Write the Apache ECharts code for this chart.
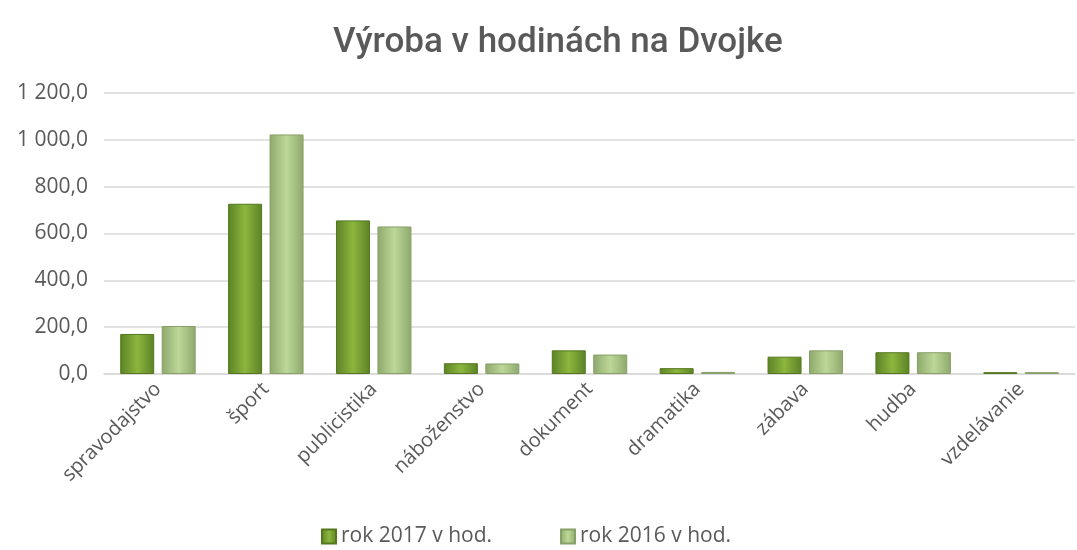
<!DOCTYPE html>
<html>
<head>
<meta charset="utf-8">
<script src="https://cdn.jsdelivr.net/npm/echarts@6/dist/echarts.min.js"></script>
<style>
  html, body { margin: 0; padding: 0; background: #fff; }
  #main { width: 1077px; height: 550px; }
</style>
</head>
<body>
<div id="main"></div>
<script>
// data
var categories = ["spravodajstvo", "šport", "publicistika", "náboženstvo", "dokument", "dramatika", "zábava", "hudba", "vzdelávanie"];
var rok2017 = [171, 727, 656, 46, 101, 25, 74, 93, 8];
var rok2016 = [205, 1023, 630, 45, 83, 9, 101, 93, 8];
var yTicks = [0, 200, 400, 600, 800, 1000, 1200];

function fmt(v) {
  var s = v.toFixed(1).replace(".", ",");
  var parts = s.split(",");
  parts[0] = parts[0].replace(/\B(?=(\d{3})+(?!\d))/g, " ");
  return parts.join(",");
}

function barGrad(edge, mid) {
  return new echarts.graphic.LinearGradient(0, 0, 1, 0, [
    { offset: 0, color: edge },
    { offset: 0.5, color: mid },
    { offset: 1, color: edge }
  ]);
}

var chart = echarts.init(document.getElementById("main"));
var font = "'Open Sans', sans-serif";

chart.setOption({
  animation: false,
  title: {
    text: "Výroba v hodinách na Dvojke",
    left: 328,
    top: 21,
    textStyle: { fontFamily: "Roboto", fontWeight: 500, fontSize: 35, color: "#595959" }
  },
  legend: {
    bottom: -2,
    left: 316,
    itemWidth: 14,
    itemHeight: 14,
    itemGap: 68,
    icon: "rect",
    textStyle: { fontFamily: font, fontSize: 21, color: "#595959" },
    data: ["rok 2017 v hod.", "rok 2016 v hod."]
  },
  grid: { left: 104, right: 2, top: 93, bottom: 176 },
  xAxis: {
    type: "category",
    data: categories,
    axisLine: { lineStyle: { color: "#d9d9d9", width: 1.5 } },
    axisTick: { show: false },
    axisLabel: { rotate: 45, margin: 12, fontFamily: font, fontSize: 20, color: "#595959", interval: 0 }
  },
  yAxis: {
    type: "value",
    min: yTicks[0],
    max: yTicks[yTicks.length - 1],
    interval: yTicks[1] - yTicks[0],
    axisLine: { show: false },
    axisTick: { show: false },
    splitLine: { lineStyle: { color: "#d9d9d9", width: 1.5 } },
    axisLabel: { margin: 16, fontFamily: font, fontSize: 21, color: "#595959", formatter: fmt }
  },
  series: [
    {
      name: "rok 2017 v hod.",
      type: "bar",
      data: rok2017,
      barWidth: 34,
      barGap: "22%",
      itemStyle: { color: barGrad("#5b8226", "#8cb63e"), borderColor: "#55781f", borderWidth: 1 }
    },
    {
      name: "rok 2016 v hod.",
      type: "bar",
      data: rok2016,
      barWidth: 34,
      itemStyle: { color: barGrad("#8ea86c", "#bcd898"), borderColor: "#889f68", borderWidth: 1 }
    }
  ]
});
</script>
</body>
</html>
